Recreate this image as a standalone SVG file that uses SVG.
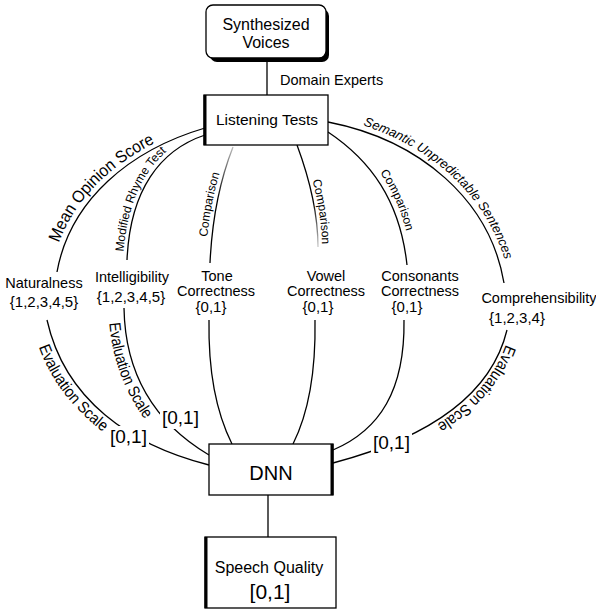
<svg xmlns="http://www.w3.org/2000/svg" width="596" height="610" viewBox="0 0 596 610">
<style>
text{font-family:"Liberation Sans",Arial,sans-serif;fill:#000}
.box{fill:#fff;stroke:#000;stroke-width:1.3}
.edge{fill:none;stroke:#000;stroke-width:1.3}
.node{font-size:16px;text-anchor:middle}
.lbl{font-size:14.5px;text-anchor:middle}
.set{font-size:15px;text-anchor:middle}
.rng{font-size:19px}
.cmp{font-size:12px}
.ev{font-size:16px}
</style>
<defs>
<linearGradient id="gTone" x1="0" y1="0" x2="0" y2="1">
<stop offset="0" stop-color="#bbb"/><stop offset="0.45" stop-color="#000"/>
</linearGradient>
<linearGradient id="gVowel" x1="0" y1="0" x2="0" y2="1">
<stop offset="0.55" stop-color="#000"/><stop offset="1" stop-color="#ccc"/>
</linearGradient>
<path id="tMOS" d="M52,268 C65,197 126,147 203,124"/>
<path id="tMRT" d="M123,262 C126,188 157,146 203,131"/>
<path id="tC1" d="M206,255 C208,215 216,178 229,147"/>
<path id="tC2" d="M301,145 C314,180 322,215 322,247"/>
<path id="tC3" d="M331,126 C375,155 405,197 412,265"/>
<path id="tSUS" d="M330,117 C424,135 496,197 510,283"/>
<path id="tE1" d="M32,324 C50,407 124,459 205,480"/>
<path id="tE2" d="M108.5,308 C109.5,373 140,434 201,469"/>
<path id="tE3" d="M510,331 C493,402 422,443 334,466"/>
</defs>

<g id="connectors">
<line class="edge" x1="267" y1="60" x2="267" y2="95"/>
<line class="edge" x1="268" y1="495" x2="268" y2="537"/>
<path class="edge" d="M205,128 C130,150 70,200 57,272"/>
<path class="edge" d="M205,135 C160,150 130,190 127,260"/>
<path class="edge" d="M233,147 C220,180 212,220 210,263" style="stroke:url(#gTone)"/>
<path class="edge" d="M297,145 C310,180 318,215 318,247" style="stroke:url(#gVowel)"/>
<path class="edge" d="M328,132 C370,160 400,200 407,265"/>
<path class="edge" d="M328,122 C420,140 490,200 504,283"/>
<path class="edge" d="M47,320 C65,400 130,445 209,465"/>
<path class="edge" d="M124,308 C125,370 150,420 209,455"/>
<path class="edge" d="M209,320 C208,380 220,420 232,444"/>
<path class="edge" d="M315,320 C316,380 305,420 293,444"/>
<path class="edge" d="M404,320 C405,390 380,430 333,450"/>
<path class="edge" d="M507,330 C490,400 420,440 333,463"/>
<text style="font-size:17px"><textPath href="#tMOS" startOffset="26" textLength="142" lengthAdjust="spacingAndGlyphs">Mean Opinion Score</textPath></text>
<text class="cmp"><textPath href="#tMRT" startOffset="10">Modified Rhyme Test</textPath></text>
<text class="cmp"><textPath href="#tC1" startOffset="18">Comparison</textPath></text>
<text class="cmp"><textPath href="#tC2" startOffset="37">Comparison</textPath></text>
<text class="cmp"><textPath href="#tC3" startOffset="68">Comparison</textPath></text>
<text style="font-size:13px;font-style:italic"><textPath href="#tSUS" startOffset="34">Semantic Unpredictable Sentences</textPath></text>
<text class="ev"><textPath href="#tE1" startOffset="24" textLength="108" lengthAdjust="spacingAndGlyphs">Evaluation Scale</textPath></text>
<text class="ev"><textPath href="#tE2" startOffset="15" textLength="104" lengthAdjust="spacingAndGlyphs">Evaluation Scale</textPath></text>
<text class="ev"><textPath href="#tE3" startOffset="14" textLength="108" lengthAdjust="spacingAndGlyphs">Evaluation Scale</textPath></text>
<text x="280" y="85" style="font-size:14.5px">Domain Experts</text>
<rect x="109" y="426" width="40" height="22" fill="#fff"/>
<text class="rng" x="110" y="443">[0,1]</text>
<rect x="160" y="408" width="42" height="21" fill="#fff"/>
<text class="rng" x="162" y="424">[0,1]</text>
<rect x="371" y="432" width="41" height="22" fill="#fff"/>
<text class="rng" x="373" y="449">[0,1]</text>
</g>

<g id="synth">
<rect x="210" y="9" width="119" height="53" rx="7" fill="#000"/>
<rect class="box" x="206" y="5" width="120" height="53" rx="7"/>
<text class="node" x="266" y="30">Synthesized</text>
<text class="node" x="266" y="48">Voices</text>
</g>

<g id="listening">
<rect class="box" x="204" y="95" width="124" height="50"/>
<line x1="205" y1="95" x2="205" y2="145" stroke="#000" stroke-width="3"/>
<text class="node" x="267" y="125" style="font-size:15.5px">Listening Tests</text>
</g>

<g id="naturalness">
<text class="lbl" x="44" y="288">Naturalness</text>
<text class="set" x="44" y="307">{1,2,3,4,5}</text>
</g>
<g id="intelligibility">
<text class="lbl" x="132" y="282">Intelligibility</text>
<text class="set" x="131" y="302">{1,2,3,4,5}</text>
</g>
<g id="tone">
<text class="lbl" x="217" y="281">Tone</text>
<text class="lbl" x="216" y="296">Correctness</text>
<text class="set" x="211" y="312">{0,1}</text>
</g>
<g id="vowel">
<text class="lbl" x="326" y="281">Vowel</text>
<text class="lbl" x="326" y="296">Correctness</text>
<text class="set" x="318" y="312">{0,1}</text>
</g>
<g id="consonants">
<text class="lbl" x="420" y="281">Consonants</text>
<text class="lbl" x="420" y="296">Correctness</text>
<text class="set" x="407" y="312">{0,1}</text>
</g>
<g id="comprehensibility">
<text class="lbl" x="539" y="303">Comprehensibility</text>
<text class="set" x="517" y="323">{1,2,3,4}</text>
</g>

<g id="dnn">
<rect class="box" x="209" y="444" width="124" height="51"/>
<line x1="332" y1="444" x2="332" y2="495" stroke="#000" stroke-width="3"/>
<text class="node" x="271" y="480" style="font-size:20px">DNN</text>
</g>

<g id="quality">
<rect class="box" x="205" y="537" width="131" height="71"/>
<line x1="206" y1="537" x2="206" y2="608" stroke="#000" stroke-width="3"/>
<text class="node" x="269" y="573">Speech Quality</text>
<text class="node" x="270" y="599" style="font-size:21px">[0,1]</text>
</g>
</svg>
